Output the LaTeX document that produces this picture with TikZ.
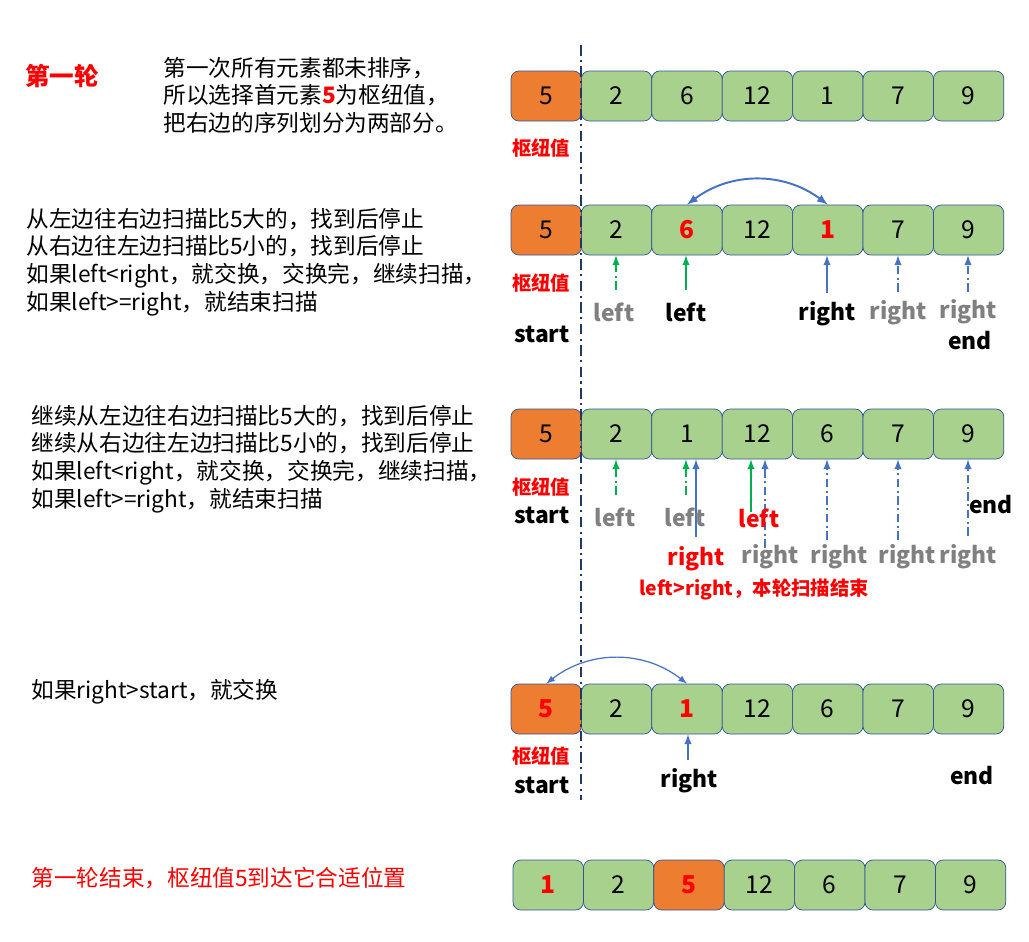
\documentclass[tikz,border=0pt]{standalone}
\usepackage{fontspec}
\setmainfont{Noto Sans CJK SC}
\usepackage{tikz}
\usetikzlibrary{positioning}
\usepackage{xcolor}
\definecolor{cellgreen}{HTML}{A9D18E}
\definecolor{pivotorange}{HTML}{ED7D31}
\definecolor{boxline}{HTML}{2F5597}
\definecolor{ptrblue}{HTML}{4472C4}
\definecolor{ptrgreen}{HTML}{00B050}
\definecolor{navy}{HTML}{203864}
\definecolor{labgray}{HTML}{808080}

\begin{document}
\begin{tikzpicture}[x=0.02cm, y=-0.02cm,
  every node/.style={inner sep=0pt},
  cell/.style={draw=boxline, fill=cellgreen, rounded corners=4.5pt,
    minimum width=1.408cm, minimum height=1cm,
    font=\fontsize{14}{14}\selectfont},
  pivot/.style={cell, fill=pivotorange},
  hot/.style={cell, text=red, font=\fontsize{14}{14}\selectfont\bfseries},
  pivothot/.style={hot, fill=pivotorange},
  txt/.style={anchor=west, align=left, font=\fontsize{12.9}{15.7}\selectfont},
  tag/.style={text=red, font=\fontsize{11}{11}\selectfont\bfseries},
  lab/.style={font=\fontsize{13}{13}\selectfont\bfseries},
  old/.style={lab, text=labgray},
  ptr/.style={-latex, line width=0.9pt, draw=ptrblue},
  gptr/.style={ptr, draw=ptrgreen},
  dd/.style={dash pattern=on 5pt off 2pt on 1pt off 2pt}
  ]
  \useasboundingbox (0,0) rectangle (1029,941);

  % left column texts
  \node[text=red, font=\fontsize{14}{14}\selectfont\bfseries] (round) at (62,76) {第一轮};
  \node[txt] (intro) at (163,95) {第一次所有元素都未排序，\\
    所以选择首元素{\color{red}\bfseries 5}为枢纽值，\\
    把右边的序列划分为两部分。};
  \node[txt] (step1) at (26,262) {从左边往右边扫描比5大的，找到后停止\\
    从右边往左边扫描比5小的，找到后停止\\
    如果left<right，就交换，交换完，继续扫描，\\
    如果left>=right，就结束扫描};
  \node[txt] (step2) at (31,459) {继续从左边往右边扫描比5大的，找到后停止\\
    继续从右边往左边扫描比5小的，找到后停止\\
    如果left<right，就交换，交换完，继续扫描，\\
    如果left>=right，就结束扫描};
  \node[txt] (step3) at (31,692) {如果right>start，就交换};
  \node[txt, text=red] (done) at (31,878) {第一轮结束，枢纽值5到达它合适位置};

  % rows of cells
  \foreach \v/\s [count=\i] in {5/pivot,2/cell,6/cell,12/cell,1/cell,7/cell,9/cell}
    \node[\s] (a\i) at ({546.2+70.4*(\i-1)},96) {\v};
  \foreach \v/\s [count=\i] in {5/pivot,2/cell,6/hot,12/cell,1/hot,7/cell,9/cell}
    \node[\s] (b\i) at ({546.2+70.4*(\i-1)},230) {\v};
  \foreach \v/\s [count=\i] in {5/pivot,2/cell,1/cell,12/cell,6/cell,7/cell,9/cell}
    \node[\s] (c\i) at ({546.2+70.4*(\i-1)},434) {\v};
  \foreach \v/\s [count=\i] in {5/pivothot,2/cell,1/hot,12/cell,6/cell,7/cell,9/cell}
    \node[\s] (d\i) at ({546.2+70.4*(\i-1)},709) {\v};
  \foreach \v/\s [count=\i] in {1/hot,2/cell,5/pivothot,12/cell,6/cell,7/cell,9/cell}
    \node[\s] (e\i) at ({548.2+70.4*(\i-1)},885) {\v};

  % split line
  \coordinate (top) at (581,45);
  \coordinate (bot) at (581,800);
  \draw[navy, line width=1.1pt, dash pattern=on 6pt off 2.5pt on 1.2pt off 2.5pt] (top) -- (bot);

  % row 1
  \node[tag] (p1) at (541,148) {枢纽值};

  % row 2
  \draw[ptr, latex-latex, line width=1.1pt] (b3.north) to[bend left=37] (b5.north);
  \node[tag] (p2) at (541,283) {枢纽值};
  \node[lab] (s2) at (542,334) {start};
  \coordinate (t21) at (616,290);
  \coordinate (t22) at (686,290);
  \coordinate (t23) at (827,293);
  \coordinate (t24) at (898,292);
  \coordinate (t25) at (968,292);
  \draw[gptr, dd] (t21) -- (t21 |- b2.south);
  \draw[gptr] (t22) -- (t22 |- b3.south);
  \draw[ptr] (t23) -- (t23 |- b5.south);
  \draw[ptr, dd] (t24) -- (t24 |- b6.south);
  \draw[ptr, dd] (t25) -- (t25 |- b7.south);
  \node[old] (l21) at (614,312) {left};
  \node[lab] (l22) at (686,312) {left};
  \node[lab] (r21) at (827,314) {right};
  \node[old] (r22) at (898,313) {right};
  \node[old] (r23) at (968,312) {right};
  \node[lab] (e2) at (970,341) {end};

  % row 3
  \node[tag] (p3) at (541,487) {枢纽值};
  \node[lab] (s3) at (542,515) {start};
  \coordinate (t31) at (616,495);
  \coordinate (t32) at (686,495);
  \coordinate (t33) at (696,537);
  \coordinate (t34) at (751,512);
  \coordinate (t35) at (765,548);
  \coordinate (t36) at (827,540);
  \coordinate (t37) at (898,540);
  \coordinate (t38) at (968,536);
  \draw[gptr, dd] (t31) -- (t31 |- c2.south);
  \draw[gptr, dd] (t32) -- (t32 |- c3.south);
  \draw[ptr] (t33) -- (t33 |- c3.south);
  \draw[gptr] (t34) -- (t34 |- c4.south);
  \draw[ptr, dd] (t35) -- (t35 |- c4.south);
  \draw[ptr, dd] (t36) -- (t36 |- c5.south);
  \draw[ptr, dd] (t37) -- (t37 |- c6.south);
  \draw[ptr, dd] (t38) -- (t38 |- c7.south);
  \node[old] (l31) at (615,517) {left};
  \node[old] (l32) at (685,517) {left};
  \node[lab, text=red] (l33) at (759,518) {left};
  \node[lab, text=red] (r31) at (696,559) {right};
  \node[old] (r32) at (770,557) {right};
  \node[old] (r33) at (839,557) {right};
  \node[old] (r34) at (907,557) {right};
  \node[old] (r35) at (968,557) {right};
  \node[lab] (e3) at (991,505) {end};
  \node[tag] (stop) at (754,589) {left>right，本轮扫描结束};

  % row 4
  \draw[ptr, latex-latex, line width=0.7pt] (d1.north) to[bend left=38] (d3.north);
  \node[tag] (p4) at (541,756) {枢纽值};
  \node[lab] (s4) at (542,785) {start};
  \coordinate (t41) at (688,760);
  \draw[ptr] (t41) -- (t41 |- d3.south);
  \node[lab] (r41) at (689,781) {right};
  \node[lab] (e4) at (972,776) {end};
\end{tikzpicture}
\end{document}
